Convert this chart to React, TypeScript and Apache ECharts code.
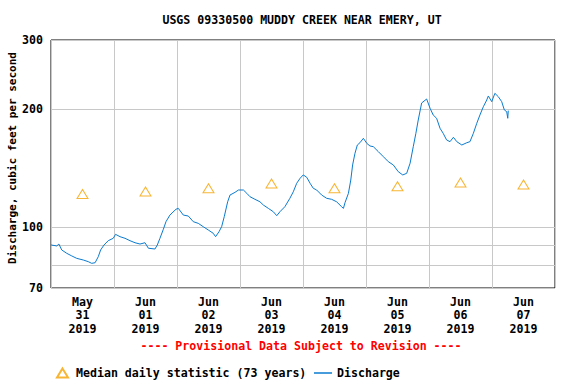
import React, { useEffect, useRef } from "react";
import * as echarts from "echarts";

// Hours since 2019-05-31 00:00 (local)
const hours = [
  0, 2.2, 3.0, 4.1, 6.0, 7.9, 9.8, 12.3, 14.2, 15.5, 16.8, 18.0, 18.9, 20.2, 21.8, 23.7,
  24.6, 26.3, 28.2, 30.1, 32.0, 33.9, 35.8, 37.1, 39.6, 40.5, 41.5, 42.8, 43.8, 45.3, 47.6,
  48.5, 50.4, 52.3, 54.2, 56.1, 58.0, 59.9, 61.8, 62.7, 64.0, 65.0, 66.0, 67.3, 68.2, 70.1,
  71.4, 73.3, 74.6, 75.8, 77.7, 79.6, 80.9, 82.8, 84.7, 86.0, 87.2, 89.1, 91.0, 92.3, 93.6,
  94.9, 96.1, 97.4, 98.7, 99.9, 101.2, 103.1, 105.0, 106.9, 108.8, 110.7, 111.4, 112.0,
  113.3, 114.2, 114.9, 115.8, 116.7, 117.7, 119.0, 120.3, 121.5, 122.8, 124.7, 126.6,
  128.5, 130.4, 132.3, 134.0, 135.5, 136.8, 138.0, 139.0, 139.9, 141.2, 143.1, 144.4,
  145.6, 146.9, 148.2, 149.4, 150.7, 152.0, 153.3, 154.6, 156.5, 158.4, 159.6, 160.9,
  162.2, 163.4, 164.7, 166.0, 166.6, 167.9, 169.1, 170.4, 171.7, 172.7, 173.6, 174.0, 174.2,
];

// Discharge, cubic feet per second
const discharge = [
  90.1, 89.6, 90.6, 87.5, 85.8, 84.5, 83.3, 82.5, 81.7, 80.9, 81.2, 84.1, 87.5, 90.1, 92.4, 93.7,
  95.9, 94.6, 93.7, 92.4, 91.3, 90.6, 91.3, 88.4, 88.0, 90.1, 93.7, 98.8, 103.3, 107.4, 111.1,
  111.7, 107.4, 106.8, 103.3, 102.3, 100.3, 98.4, 96.5, 94.6, 97.4, 100.3, 106.4, 116.1, 120.8, 122.7,
  124.4, 124.4, 122.0, 119.6, 117.8, 116.1, 113.9, 111.7, 109.5, 107.0, 109.5, 112.8, 118.5, 123.1, 129.4,
  133.3, 135.9, 134.1, 129.4, 125.7, 124.4, 120.8, 118.5, 117.8, 116.1, 112.8, 111.7, 115.5,
  122.0, 131.9, 144.1, 154.3, 162.0, 164.2, 168.5, 163.6, 161.1, 160.4, 155.8, 151.3,
  146.9, 144.1, 138.5, 135.9, 137.2, 145.6, 160.4, 173.5, 187.6, 207.3, 212.2, 201.0,
  193.2, 189.5, 178.7, 173.5, 166.9, 165.2, 169.5, 165.2, 162.0, 164.2, 165.2, 173.5,
  184.0, 193.2, 202.8, 211.0, 216.0, 208.9, 219.4, 215.1, 208.9, 199.0, 197.0, 189.5, 198.2,
];

const medianHours = [12, 36, 60, 84, 108, 132, 156, 180];
const medianValues = [121.5, 123.3, 125.7, 129.3, 125.7, 127.2, 130.0, 128.5];

const dayMonths = ["May", "Jun", "Jun", "Jun", "Jun", "Jun", "Jun", "Jun"];
const dayNums = ["31", "01", "02", "03", "04", "05", "06", "07"];
const dayYears = ["2019", "2019", "2019", "2019", "2019", "2019", "2019", "2019"];
const dayLabelHours = [12, 36, 60, 84, 108, 132, 156, 180];
const dayGridHours = [0, 24, 48, 72, 96, 120, 144, 168, 192];

const yGridValues = [70, 80, 90, 100, 200, 300];
const yLabelValues = [70, 100, 200, 300];

const FONT = "DejaVu Sans Mono";
const MEDIAN_NAME = "Median daily statistic (73 years)";
const DISCHARGE_NAME = "Discharge";
const LINE_COLOR = "#0a7bcf";

export default function App() {
  const ref = useRef<HTMLDivElement>(null);

  useEffect(() => {
    if (!ref.current) return;
    const chart = echarts.init(ref.current, null, { renderer: "svg" });
    const lineData = hours.map((h, i) => [h, discharge[i]]);
    const medData = medianHours.map((h, i) => [h, medianValues[i]]);

    chart.setOption({
      animation: false,
      backgroundColor: "#fff",
      grid: {
        left: 51,
        right: 21,
        top: 40,
        bottom: 96,
        show: true,
        borderColor: "#000",
        borderWidth: 1,
        backgroundColor: "transparent",
      },
      graphic: [
        {
          type: "text",
          x: 302,
          y: 20,
          style: {
            text: "USGS 09330500 MUDDY CREEK NEAR EMERY, UT",
            font: `bold 11.6px "${FONT}"`,
            fill: "#000",
            align: "center",
            verticalAlign: "middle",
          },
        },
        {
          type: "text",
          x: 12,
          y: 158,
          rotation: Math.PI / 2,
          style: {
            text: "Discharge, cubic feet per second",
            font: `bold 11px "${FONT}"`,
            fill: "#000",
            align: "center",
            verticalAlign: "middle",
          },
        },
        {
          type: "text",
          x: 301,
          y: 346,
          style: {
            text: "---- Provisional Data Subject to Revision ----",
            font: `bold 11.6px "${FONT}"`,
            fill: "#ff0000",
            align: "center",
            verticalAlign: "middle",
          },
        },
      ],
      legend: [
        {
          data: [{ name: MEDIAN_NAME, icon: "triangle" }],
          left: 51,
          top: 362,
          itemWidth: 11,
          itemHeight: 9,
          textStyle: {
            fontFamily: FONT,
            fontWeight: "bold",
            fontSize: 11.6,
            color: "#000",
            padding: [0, 0, 0, 3],
          },
        },
        {
          data: [{ name: DISCHARGE_NAME, icon: "rect", itemStyle: { color: LINE_COLOR } }],
          left: 309,
          top: 362,
          itemWidth: 18,
          itemHeight: 1.5,
          textStyle: {
            fontFamily: FONT,
            fontWeight: "bold",
            fontSize: 11.6,
            color: "#000",
          },
        },
      ],
      xAxis: {
        type: "value",
        min: 0,
        max: 192,
        axisLine: { show: false },
        axisTick: { show: false, customValues: dayGridHours },
        splitLine: { show: true, lineStyle: { color: "#c8c8c8", width: 1 } },
        axisLabel: {
          customValues: dayLabelHours,
          margin: 7,
          fontFamily: FONT,
          fontWeight: "bold",
          fontSize: 11.6,
          lineHeight: 13.5,
          color: "#000",
          formatter: (v: number) => {
            const i = Math.round((v - 12) / 24);
            return `${dayMonths[i]}\n${dayNums[i]}\n${dayYears[i]}`;
          },
        },
      },
      yAxis: {
        type: "log",
        logBase: 10,
        min: 70,
        max: 300,
        axisLine: { show: false },
        axisTick: { show: false, customValues: yGridValues },
        splitLine: { show: true, lineStyle: { color: "#c8c8c8", width: 1 } },
        axisLabel: {
          customValues: yLabelValues,
          margin: 8,
          fontFamily: FONT,
          fontWeight: "bold",
          fontSize: 11.6,
          color: "#000",
          formatter: (v: number) => String(Math.round(v)),
        },
      },
      series: [
        {
          name: DISCHARGE_NAME,
          type: "line",
          data: lineData,
          symbol: "none",
          lineStyle: { color: LINE_COLOR, width: 1 },
          itemStyle: { color: LINE_COLOR },
          z: 3,
        },
        {
          name: MEDIAN_NAME,
          type: "scatter",
          data: medData,
          symbol: "triangle",
          symbolSize: [11, 9],
          itemStyle: { color: "#ffffff", borderColor: "#f5a200", borderWidth: 1 },
          z: 4,
        },
      ],
    });

    return () => chart.dispose();
  }, []);

  return (
    <div
      ref={ref}
      style={{ position: "fixed", left: 0, top: 0, width: 576, height: 384 }}
    />
  );
}
